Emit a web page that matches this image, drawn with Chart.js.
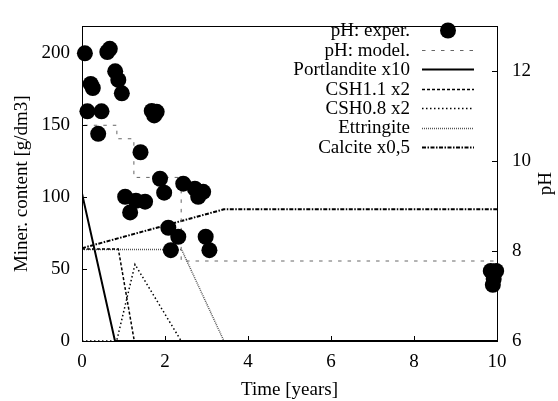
<!DOCTYPE html>
<html lang="en">
<head>
    <meta charset="UTF-8">
    <title>Miner. content and pH</title>
    <style>
        html, body {
            margin: 0;
            padding: 0;
            background-color: #ffffff;
        }
        .chart-container {
            position: relative;
            width: 558px;
            height: 401px;
        }
    </style>
</head>
<body>
    <div class="chart-container">
        <canvas id="mineralChart" width="558" height="401"></canvas>
    </div>
    <script src="https://cdn.jsdelivr.net/npm/chart.js"></script>
    <script>
        // Axis ticks
        const timeTicks = [0, 2, 4, 6, 8, 10];
        const contentTicks = [0, 50, 100, 150, 200];
        const phTicks = [6, 8, 10, 12];

        // pH measured
        const phExperTime = [0.07, 0.61, 0.67, 0.80, 0.875, 0.21, 0.26, 0.96, 0.13, 0.47, 1.68, 1.80, 1.74,
            0.39, 1.41, 1.88, 1.98, 2.44, 2.72, 2.92, 2.80, 1.04, 1.30, 1.52, 1.16,
            2.08, 2.32, 2.14, 2.98, 3.07, 9.85, 9.98, 9.90, 9.92];
        const phExperValue = [12.40, 12.43, 12.50, 12.00, 11.81, 11.72, 11.63, 11.51, 11.11, 11.11, 11.12, 11.10, 11.02,
            10.61, 10.20, 9.61, 9.30, 9.50, 9.39, 9.32, 9.21, 9.21, 9.12, 9.10, 8.86,
            8.52, 8.32, 8.02, 8.32, 8.02, 7.56, 7.56, 7.25, 7.38];

        // pH model (stepped)
        const phModelTime = [0, 0.84, 1.25, 2.39, 3.42, 10];
        const phModelValue = [12.44, 10.80, 10.50, 9.64, 7.78, 7.78];

        // minerals [g/dm3]
        const portlanditeTime = [0, 0.795, 10];
        const portlanditeValue = [102.5, 0, 0];
        const csh11Time = [0, 0.875, 1.26, 10];
        const csh11Value = [64, 64, 0, 0];
        const csh08Time = [0, 0.835, 1.277, 2.39, 10];
        const csh08Value = [0, 0, 53.2, 0, 0];
        const ettringiteTime = [0, 2.40, 3.42, 10];
        const ettringiteValue = [63.5, 63.5, 0, 0];
        const calciteTime = [0, 3.42, 10];
        const calciteValue = [64.5, 91.5, 91.5];

        function toPoints(xs, ys) {
            return xs.map((x, i) => ({ x: x, y: ys[i] }));
        }

        const serif = "'Liberation Serif', 'DejaVu Serif', serif";

        // inward tick marks, full frame and the pH title (read bottom to top)
        const frameTicks = {
            id: 'frameTicks',
            afterDraw(chart) {
                const ctx = chart.ctx;
                const a = chart.chartArea;
                const len = 5;
                ctx.save();
                ctx.strokeStyle = '#000';
                ctx.lineWidth = 1;
                ctx.beginPath();
                chart.scales.x.ticks.forEach(t => {
                    const px = Math.round(chart.scales.x.getPixelForValue(t.value)) + 0.5;
                    ctx.moveTo(px, a.bottom);
                    ctx.lineTo(px, a.bottom - len);
                });
                chart.scales.y.ticks.forEach(t => {
                    const py = Math.round(chart.scales.y.getPixelForValue(t.value)) + 0.5;
                    ctx.moveTo(a.left, py);
                    ctx.lineTo(a.left + len, py);
                });
                chart.scales.y2.ticks.forEach(t => {
                    const py = Math.round(chart.scales.y2.getPixelForValue(t.value)) + 0.5;
                    ctx.moveTo(a.right, py);
                    ctx.lineTo(a.right - len, py);
                });
                ctx.stroke();
                ctx.strokeRect(Math.round(a.left) + 0.5, Math.round(a.top) + 0.5,
                    Math.round(a.right - a.left), Math.round(a.bottom - a.top));

                ctx.translate(546, (a.top + a.bottom) / 2);
                ctx.rotate(-Math.PI / 2);
                ctx.font = '19px ' + serif;
                ctx.fillStyle = '#000';
                ctx.textAlign = 'center';
                ctx.textBaseline = 'middle';
                ctx.fillText('pH', 0, 0);
                ctx.restore();
            }
        };

        // legend with right-aligned text and samples to its right
        const sideLegend = {
            id: 'sideLegend',
            afterDraw(chart) {
                const ctx = chart.ctx;
                const textRight = 410;
                const x0 = 422, x1 = 474;
                const y0 = 30.5, dy = 19.4;
                ctx.save();
                ctx.font = '19px ' + serif;
                ctx.textAlign = 'right';
                ctx.textBaseline = 'middle';
                chart.data.datasets.forEach((ds, i) => {
                    const y = y0 + i * dy;
                    ctx.fillStyle = '#000';
                    ctx.fillText(ds.label, textRight, y + 1);
                    if (ds.showLine === false) {
                        ctx.beginPath();
                        ctx.arc((x0 + x1) / 2, y, ds.pointRadius, 0, Math.PI * 2);
                        ctx.fillStyle = ds.pointBackgroundColor;
                        ctx.fill();
                    } else {
                        ctx.beginPath();
                        ctx.setLineDash(ds.borderDash || []);
                        ctx.strokeStyle = ds.borderColor;
                        ctx.lineWidth = ds.borderWidth;
                        ctx.moveTo(x0, Math.round(y) + 0.5);
                        ctx.lineTo(x1, Math.round(y) + 0.5);
                        ctx.stroke();
                        ctx.setLineDash([]);
                    }
                });
                ctx.restore();
            }
        };

        const lineDefaults = { fill: false, pointRadius: 0, tension: 0 };

        const ctx = document.getElementById('mineralChart').getContext('2d');
        const mineralChart = new Chart(ctx, {
            type: 'line',
            data: {
                datasets: [
                    {
                        label: 'pH: exper.',
                        data: toPoints(phExperTime, phExperValue),
                        yAxisID: 'y2',
                        showLine: false,
                        pointRadius: 8,
                        pointBackgroundColor: '#000',
                        pointBorderWidth: 0,
                        borderColor: '#000',
                        clip: false
                    },
                    Object.assign({
                        label: 'pH: model.',
                        data: toPoints(phModelTime, phModelValue),
                        yAxisID: 'y2',
                        stepped: 'after',
                        borderColor: '#666',
                        borderWidth: 1,
                        borderDash: [3.5, 6]
                    }, lineDefaults),
                    Object.assign({
                        label: 'Portlandite x10',
                        data: toPoints(portlanditeTime, portlanditeValue),
                        yAxisID: 'y',
                        borderColor: '#000',
                        borderWidth: 2,
                        borderDash: []
                    }, lineDefaults),
                    Object.assign({
                        label: 'CSH1.1 x2',
                        data: toPoints(csh11Time, csh11Value),
                        yAxisID: 'y',
                        borderColor: '#000',
                        borderWidth: 1.5,
                        borderDash: [3, 2]
                    }, lineDefaults),
                    Object.assign({
                        label: 'CSH0.8 x2',
                        data: toPoints(csh08Time, csh08Value),
                        yAxisID: 'y',
                        borderColor: '#000',
                        borderWidth: 1.5,
                        borderDash: [1.5, 2.5]
                    }, lineDefaults),
                    Object.assign({
                        label: 'Ettringite',
                        data: toPoints(ettringiteTime, ettringiteValue),
                        yAxisID: 'y',
                        borderColor: '#555',
                        borderWidth: 1.5,
                        borderDash: [1, 1]
                    }, lineDefaults),
                    Object.assign({
                        label: 'Calcite x0,5',
                        data: toPoints(calciteTime, calciteValue),
                        yAxisID: 'y',
                        borderColor: '#000',
                        borderWidth: 2,
                        borderDash: [4, 1.5, 1.5, 1.5]
                    }, lineDefaults)
                ]
            },
            options: {
                responsive: false,
                animation: false,
                layout: { padding: { top: 15, left: 0, right: 0, bottom: 0 } },
                plugins: {
                    legend: { display: false },
                    tooltip: { enabled: false }
                },
                scales: {
                    x: {
                        type: 'linear',
                        min: 0,
                        max: 10,
                        afterBuildTicks: s => { s.ticks = timeTicks.map(v => ({ value: v })); },
                        afterFit: s => { s.height = 60; },
                        grid: { display: false, drawTicks: false },
                        border: { display: false },
                        ticks: { color: '#000', font: { family: serif, size: 19 }, padding: 10, maxRotation: 0 },
                        title: {
                            display: true,
                            text: 'Time [years]',
                            color: '#000',
                            font: { family: serif, size: 19 },
                            padding: { top: 0, bottom: 0 }
                        }
                    },
                    y: {
                        type: 'linear',
                        position: 'left',
                        min: 0,
                        max: 218.6,
                        afterBuildTicks: s => { s.ticks = contentTicks.map(v => ({ value: v })); },
                        afterFit: s => { s.width = 82; },
                        grid: { display: false, drawTicks: false },
                        border: { display: false },
                        ticks: { color: '#000', font: { family: serif, size: 19 }, padding: 12 },
                        title: {
                            display: true,
                            text: 'Miner. content [g/dm3]',
                            color: '#000',
                            font: { family: serif, size: 19 },
                            padding: { top: 11, bottom: 0 }
                        }
                    },
                    y2: {
                        type: 'linear',
                        position: 'right',
                        min: 6,
                        max: 13,
                        afterBuildTicks: s => { s.ticks = phTicks.map(v => ({ value: v })); },
                        afterFit: s => { s.width = 61; },
                        grid: { display: false, drawTicks: false },
                        border: { display: false },
                        ticks: { color: '#000', font: { family: serif, size: 19 }, padding: 15 }
                    }
                }
            },
            plugins: [frameTicks, sideLegend]
        });
    </script>
</body>
</html>
